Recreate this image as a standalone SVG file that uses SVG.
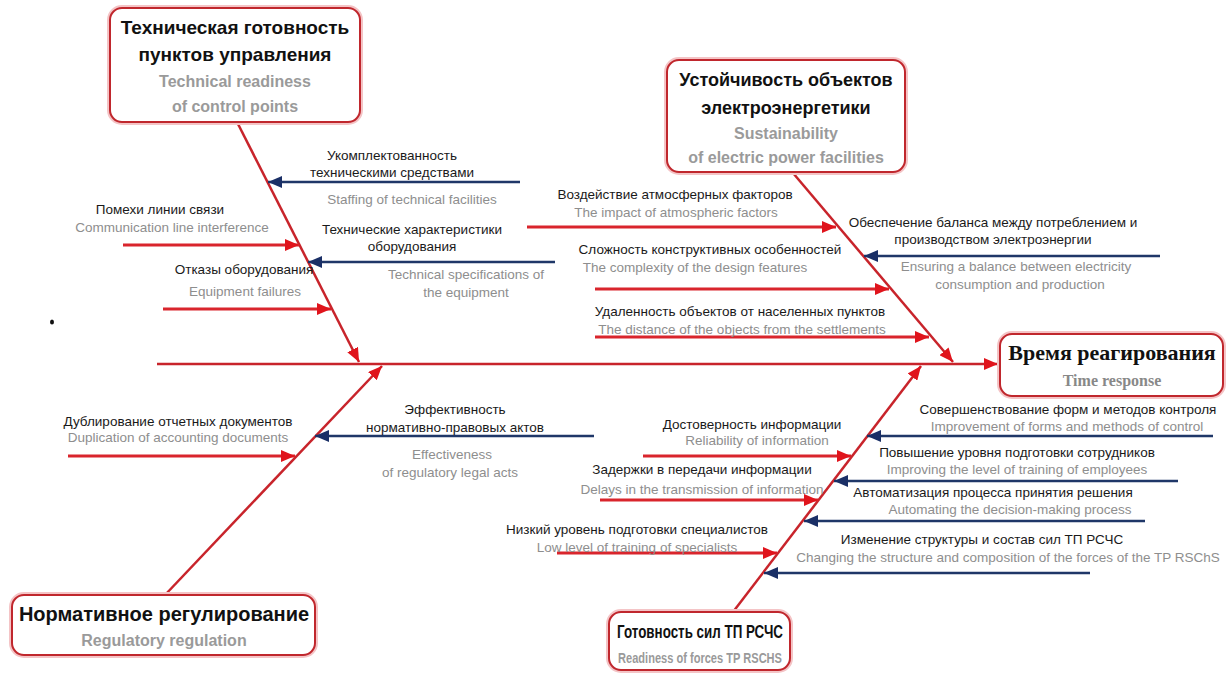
<svg xmlns="http://www.w3.org/2000/svg" width="1229" height="675" viewBox="0 0 1229 675">
<style>
.bg{fill:#ffffff}
.box{fill:#ffffff;stroke:#c0272d;stroke-width:2}
.glow{fill:none;stroke:#f4c4c6;stroke-width:6}
.t{font-family:"Liberation Sans",Arial,sans-serif;font-size:18px;font-weight:bold;fill:#111;text-anchor:middle}
.s{font-family:"Liberation Sans",Arial,sans-serif;font-size:16px;font-weight:bold;fill:#9a9a9a;text-anchor:middle}
.ht{font-family:"Liberation Serif","Times New Roman",serif;font-size:22px;font-weight:bold;fill:#111;text-anchor:middle}
.hs{font-family:"Liberation Serif","Times New Roman",serif;font-size:16px;font-weight:bold;fill:#888;text-anchor:middle}
.l{font-family:"Liberation Sans",Arial,sans-serif;font-size:13.5px;fill:#1a1a1a;text-anchor:middle}
.g{font-family:"Liberation Sans",Arial,sans-serif;font-size:13.5px;fill:#8e8e8e;text-anchor:middle}
.r{stroke:#d9252c;stroke-width:3;fill:none}
.b{stroke:#1f3768;stroke-width:2.5;fill:none}
.rb{stroke:#c8242b;stroke-width:2.5;fill:none}
</style>
<defs>
<marker id="ar" viewBox="0 0 14 12" refX="14" refY="6" markerWidth="14" markerHeight="12" markerUnits="userSpaceOnUse" orient="auto"><path d="M0,0 L14,6 L0,12 z" fill="#e0141c"/></marker>
<marker id="ab" viewBox="0 0 14 12" refX="14" refY="6" markerWidth="14" markerHeight="12" markerUnits="userSpaceOnUse" orient="auto"><path d="M0,0 L14,6 L0,12 z" fill="#1a2f66"/></marker>
</defs>
<rect class="bg" x="0" y="0" width="1229" height="675"/>
<ellipse cx="52" cy="322" rx="2" ry="2.5" fill="#111"/>

<g id="connectors">
<line class="rb" x1="157" y1="364" x2="998" y2="364" marker-end="url(#ar)"/>
<line class="rb" x1="237" y1="122" x2="359" y2="362" marker-end="url(#ar)"/>
<line class="rb" x1="793" y1="173" x2="953" y2="362" marker-end="url(#ar)"/>
<line class="rb" x1="165" y1="595" x2="382" y2="366" marker-end="url(#ar)"/>
<line class="rb" x1="733" y1="612" x2="921" y2="366" marker-end="url(#ar)"/>
<line class="b" x1="520" y1="182" x2="268" y2="182" marker-end="url(#ab)"/>
<line class="r" x1="123" y1="245" x2="299" y2="245" marker-end="url(#ar)"/>
<line class="b" x1="555" y1="262" x2="308" y2="262" marker-end="url(#ab)"/>
<line class="r" x1="163" y1="309" x2="331" y2="309" marker-end="url(#ar)"/>
<line class="r" x1="527" y1="227" x2="836" y2="227" marker-end="url(#ar)"/>
<line class="b" x1="1160" y1="256" x2="864" y2="256" marker-end="url(#ab)"/>
<line class="r" x1="595" y1="289" x2="889" y2="289" marker-end="url(#ar)"/>
<line class="r" x1="595" y1="337" x2="929" y2="337" marker-end="url(#ar)"/>
<line class="r" x1="68" y1="456" x2="295" y2="456" marker-end="url(#ar)"/>
<line class="b" x1="594" y1="436" x2="315" y2="436" marker-end="url(#ab)"/>
<line class="r" x1="643" y1="456" x2="851" y2="456" marker-end="url(#ar)"/>
<line class="b" x1="1213" y1="436" x2="867" y2="436" marker-end="url(#ab)"/>
<line class="b" x1="1178" y1="481" x2="834" y2="481" marker-end="url(#ab)"/>
<line class="r" x1="600" y1="500" x2="818" y2="500" marker-end="url(#ar)"/>
<line class="b" x1="1145" y1="521" x2="804" y2="521" marker-end="url(#ab)"/>
<line class="r" x1="557" y1="553" x2="777" y2="553" marker-end="url(#ar)"/>
<line class="b" x1="1090" y1="573" x2="764" y2="573" marker-end="url(#ab)"/>
</g>

<g id="node-tech">
<rect class="glow" x="110" y="8" width="250" height="114" rx="12"/>
<rect class="box" x="110" y="8" width="250" height="114" rx="12"/>
<text class="t" x="235" y="34" style="font-size:19px">Техническая готовность</text>
<text class="t" x="235" y="61" style="font-size:19px">пунктов управления</text>
<text class="s" x="235" y="87">Technical readiness</text>
<text class="s" x="235" y="112">of control points</text>
</g>

<g id="node-power">
<rect class="glow" x="667" y="60" width="238" height="112" rx="12"/>
<rect class="box" x="667" y="60" width="238" height="112" rx="12"/>
<text class="t" x="786" y="86">Устойчивость объектов</text>
<text class="t" x="786" y="114">электроэнергетики</text>
<text class="s" x="786" y="139">Sustainability</text>
<text class="s" x="786" y="163">of electric power facilities</text>
</g>

<g id="node-head">
<rect class="glow" x="1000" y="334" width="223" height="62" rx="12"/>
<rect class="box" x="1000" y="334" width="223" height="62" rx="12"/>
<text class="ht" x="1112" y="360">Время реагирования</text>
<text class="hs" x="1112" y="386">Time response</text>
</g>

<g id="node-reg">
<rect class="glow" x="12" y="595" width="303" height="60" rx="12"/>
<rect class="box" x="12" y="595" width="303" height="60" rx="12"/>
<text class="t" x="164" y="621" style="font-size:20px">Нормативное регулирование</text>
<text class="s" x="164" y="646">Regulatory regulation</text>
</g>

<g id="node-forces">
<rect class="glow" x="609" y="612" width="181" height="58" rx="12"/>
<rect class="box" x="609" y="612" width="181" height="58" rx="12"/>
<text class="t" x="700" y="638" textLength="166" lengthAdjust="spacingAndGlyphs">Готовность сил ТП РСЧС</text>
<text class="s" x="700" y="663" style="font-size:15px" textLength="164" lengthAdjust="spacingAndGlyphs">Readiness of forces TP RSCHS</text>
</g>

<g id="labels-tl">
<text class="l" x="392" y="160">Укомплектованность</text>
<text class="l" x="392" y="177">техническими средствами</text>
<text class="g" x="412" y="204">Staffing of technical facilities</text>
<text class="l" x="160" y="214">Помехи линии связи</text>
<text class="g" x="172" y="232">Communication line interference</text>
<text class="l" x="412" y="234">Технические характеристики</text>
<text class="l" x="412" y="251">оборудования</text>
<text class="g" x="466" y="279">Technical specifications of</text>
<text class="g" x="466" y="297">the equipment</text>
<text class="l" x="244" y="274">Отказы оборудования</text>
<text class="g" x="245" y="296">Equipment failures</text>
</g>

<g id="labels-tr">
<text class="l" x="675" y="199">Воздействие атмосферных факторов</text>
<text class="g" x="676" y="217">The impact of atmospheric factors</text>
<text class="l" x="993" y="227">Обеспечение баланса между потреблением и</text>
<text class="l" x="993" y="244">производством электроэнергии</text>
<text class="g" x="1016" y="271">Ensuring a balance between electricity</text>
<text class="g" x="1020" y="289">consumption and production</text>
<text class="l" x="710" y="254">Сложность конструктивных особенностей</text>
<text class="g" x="695" y="272">The complexity of the design features</text>
<text class="l" x="740" y="316">Удаленность объектов от населенных пунктов</text>
<text class="g" x="742" y="334">The distance of the objects from the settlements</text>
</g>

<g id="labels-bl">
<text class="l" x="178" y="426">Дублирование отчетных документов</text>
<text class="g" x="178" y="442">Duplication of accounting documents</text>
<text class="l" x="455" y="414">Эффективность</text>
<text class="l" x="455" y="432">нормативно-правовых актов</text>
<text class="g" x="452" y="459">Effectiveness</text>
<text class="g" x="450" y="477">of regulatory legal acts</text>
</g>

<g id="labels-br">
<text class="l" x="752" y="429">Достоверность информации</text>
<text class="g" x="757" y="445">Reliability of information</text>
<text class="l" x="1068" y="414">Совершенствование форм и методов контроля</text>
<text class="g" x="1067" y="431">Improvement of forms and methods of control</text>
<text class="l" x="1017" y="457">Повышение уровня подготовки сотрудников</text>
<text class="g" x="1017" y="474">Improving the level of training of employees</text>
<text class="l" x="702" y="474">Задержки в передачи информации</text>
<text class="g" x="702" y="494">Delays in the transmission of information</text>
<text class="l" x="993" y="497">Автоматизация процесса принятия решения</text>
<text class="g" x="1010" y="514">Automating the decision-making process</text>
<text class="l" x="637" y="534">Низкий уровень подготовки специалистов</text>
<text class="g" x="637" y="552">Low level of training of specialists</text>
<text class="l" x="982" y="544">Изменение структуры и состав сил ТП РСЧС</text>
<text class="g" x="1008" y="562">Changing the structure and composition of the forces of the TP RSChS</text>
</g>
</svg>
